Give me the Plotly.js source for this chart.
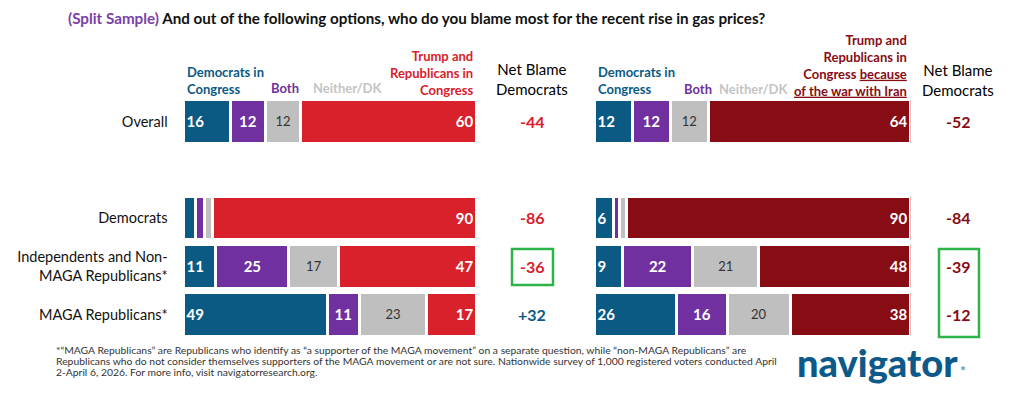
<!DOCTYPE html>
<html><head><meta charset="utf-8">
<script src="https://cdn.plot.ly/plotly-3.0.1.min.js"></script>
<style>html,body{margin:0;padding:0;background:#fff}#chart{width:1024px;height:401px}</style>
</head><body><div id="chart"></div>
<script>
// ---- data ----
const rows = ['Overall', ' ', 'Democrats', 'Independents and Non-<br>MAGA Republicans*', 'MAGA Republicans*'];
const leftDem      = [16, null, 4, 11, 49];
const leftBoth     = [12, null, 3, 25, 11];
const leftNeither  = [12, null, 3, 17, 23];
const leftTrump    = [60, null, 90, 47, 17];
const rightDem     = [12, null, 6, 9, 26];
const rightBoth    = [12, null, 2, 22, 16];
const rightNeither = [12, null, 2, 21, 20];
const rightTrump   = [64, null, 90, 48, 38];

// ---- styles ----
const C = {blue:'#0b5a84', purple:'#7030a0', gray:'#bfbfbf', red:'#d8212b', dred:'#880c14', green:'#2db34a'};
const FONT = 'Lato, "Open Sans", sans-serif';
const W = 1024, H = 401;
const px = v => v / W, py = v => 1 - v / H;

const lab = v => (v != null && v >= 5) ? String(v) : '';

function seg(vals, color, xa, anchor, tcol, size, weight) {
  return {
    type: 'bar', orientation: 'h', y: rows, x: vals, xaxis: xa, yaxis: 'y',
    marker: {color: color, line: {color: '#ffffff', width: 3}},
    text: vals.map(lab), textposition: 'inside', insidetextanchor: anchor,
    textangle: 0, constraintext: 'none',
    textfont: {family: FONT, size: size, color: tcol, weight: weight},
    hoverinfo: 'skip', width: 0.91, showlegend: false
  };
}

const data = [
  seg(leftDem, C.blue, 'x', 'start', '#fff', 15, 700),
  seg(leftBoth, C.purple, 'x', 'middle', '#fff', 15, 700),
  seg(leftNeither, C.gray, 'x', 'middle', '#333', 13, 400),
  seg(leftTrump, C.red, 'x', 'end', '#fff', 15, 700),
  seg(rightDem, C.blue, 'x2', 'start', '#fff', 15, 700),
  seg(rightBoth, C.purple, 'x2', 'middle', '#fff', 15, 700),
  seg(rightNeither, C.gray, 'x2', 'middle', '#333', 13, 400),
  seg(rightTrump, C.dred, 'x2', 'end', '#fff', 15, 700)
];

function ann(x, y, text, o) {
  o = o || {};
  return Object.assign({
    xref: 'paper', yref: 'paper', x: px(x), y: py(y), text: text, showarrow: false,
    xanchor: 'center', yanchor: 'middle',
    font: {family: FONT, size: 13, color: '#222', weight: 700}
  }, o);
}

const annotations = [
  ann(66, 18, "<span style='color:#7b3fa8'>(Split Sample)</span> And out of the following options, who do you blame most for the recent rise in gas prices?",
      {xanchor: 'left', font: {family: FONT, size: 15.2, color: '#111', weight: 700}}),
  // left headers
  ann(185, 80, 'Democrats in<br>Congress', {xanchor: 'left', align: 'left', font: {family: FONT, size: 13, color: C.blue, weight: 700}}),
  ann(285, 88, 'Both', {font: {family: FONT, size: 13, color: C.purple, weight: 700}}),
  ann(347, 88, 'Neither/DK', {font: {family: FONT, size: 13, color: '#c4c4c4', weight: 700}}),
  ann(475, 73, 'Trump and<br>Republicans in<br>Congress', {xanchor: 'right', align: 'right', font: {family: FONT, size: 13, color: C.red, weight: 700}}),
  ann(532, 79, 'Net Blame<br>Democrats', {font: {family: FONT, size: 15, color: '#000', weight: 400}}),
  // right headers
  ann(596, 81, 'Democrats in<br>Congress', {xanchor: 'left', align: 'left', font: {family: FONT, size: 13, color: C.blue, weight: 700}}),
  ann(698, 89, 'Both', {font: {family: FONT, size: 13, color: C.purple, weight: 700}}),
  ann(753, 89, 'Neither/DK', {font: {family: FONT, size: 13, color: '#c4c4c4', weight: 700}}),
  ann(909, 66, 'Trump and<br>Republicans in<br>Congress <u>because</u><br><u>of the war with Iran</u>', {xanchor: 'right', align: 'right', font: {family: FONT, size: 13, color: C.dred, weight: 700}}),
  ann(958, 80, 'Net Blame<br>Democrats', {font: {family: FONT, size: 15, color: '#000', weight: 400}}),
  // footnote
  ann(54, 350, '*“MAGA Republicans” are Republicans who identify as “a supporter of the MAGA movement” on a separate question, while “non-MAGA Republicans” are',
      {xanchor: 'left', font: {family: FONT, size: 10.35, color: '#333', weight: 400}}),
  ann(54, 361, 'Republicans who do not consider themselves supporters of the MAGA movement or are not sure. Nationwide survey of 1,000 registered voters conducted April',
      {xanchor: 'left', font: {family: FONT, size: 10.35, color: '#333', weight: 400}}),
  ann(54, 372, '2-April 6, 2026. For more info, visit navigatorresearch.org.',
      {xanchor: 'left', font: {family: FONT, size: 10.35, color: '#333', weight: 400}}),
  // logo
  ann(795, 362, 'navigator', {xanchor: 'left', font: {family: FONT, size: 38, color: '#0d5a8a', weight: 900}}),
  ann(963, 370, '*', {font: {family: FONT, size: 14, color: '#3aa8dc', weight: 700}})
];

// net blame values (Democrats minus Trump/Republicans)
function netAnn(dem, trump, x, negColor) {
  dem.forEach((d, i) => {
    if (d == null) return;
    const n = d - trump[i];
    annotations.push({
      xref: 'paper', yref: 'y', x: px(x), y: i, showarrow: false,
      text: (n > 0 ? '+' : '') + n, xanchor: 'center', yanchor: 'middle',
      font: {family: FONT, size: 16, color: n > 0 ? C.blue : negColor, weight: 700}
    });
  });
}
netAnn(leftDem, leftTrump, 532, C.red);
netAnn(rightDem, rightTrump, 958, C.dred);

const axX = d => ({domain: d, range: [0, 100], showgrid: false, zeroline: false, showticklabels: false, showline: false, fixedrange: true});

const layout = {
  width: W, height: H, margin: {l: 0, r: 0, t: 0, b: 0},
  paper_bgcolor: '#fff', plot_bgcolor: 'rgba(0,0,0,0)',
  barmode: 'stack', bargap: 0,
  xaxis: axX([0.1792, 0.4653]),
  xaxis2: Object.assign(axX([0.5806, 0.8892]), {anchor: 'y'}),
  yaxis: {type: 'category', range: [5.793, -2.518], domain: [0, 1], anchor: 'x',
          showgrid: false, zeroline: false, showline: false, automargin: false,
          ticks: 'outside', ticklen: 12, tickcolor: 'rgba(0,0,0,0)',
          tickfont: {family: FONT, size: 14.5, color: '#111'}, fixedrange: true},
  shapes: [
    {type: 'rect', xref: 'paper', yref: 'paper', x0: px(512), x1: px(553), y0: py(249), y1: py(285), line: {color: C.green, width: 2.5}},
    {type: 'rect', xref: 'paper', yref: 'paper', x0: px(939), x1: px(979), y0: py(249), y1: py(337), line: {color: C.green, width: 2.5}}
  ],
  annotations: annotations,
  font: {family: FONT}
};

Plotly.newPlot('chart', data, layout, {staticPlot: true, displayModeBar: false});
</script>
</body></html>
